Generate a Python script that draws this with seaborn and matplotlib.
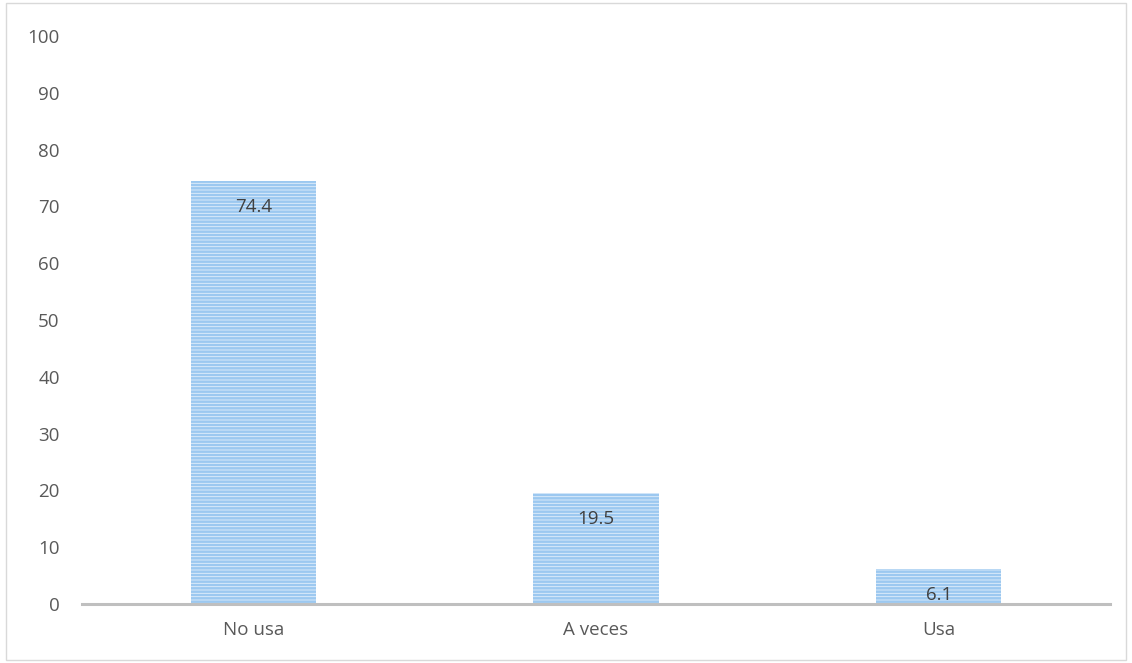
import pandas as pd
import matplotlib.pyplot as plt
import seaborn as sns
from matplotlib.patches import Rectangle

# data
categorias = ['No usa', 'A veces', 'Usa']
porcentaje = [74.4, 19.5, 6.1]

df = pd.DataFrame({'categoria': categorias, 'porcentaje': porcentaje})

sns.set_style('white')
plt.rcParams['font.family'] = ['Open Sans', 'DejaVu Sans']
plt.rcParams['hatch.linewidth'] = 1.8
plt.rcParams['hatch.color'] = '#9cc8f0'

fig = plt.figure(figsize=(11.32, 6.63), dpi=100)
ax = fig.add_axes([0.0724, 0.089, 0.9082, 0.8567])

sns.barplot(x='categoria', y='porcentaje', data=df, color='#e3effb', width=0.365,
            saturation=1, ax=ax)
for p in ax.patches:
    p.set_hatch('-----')
    p.set_edgecolor('#9cc8f0')
    p.set_linewidth(0)

ax.bar_label(ax.containers[0], labels=[f'{v:.1f}' for v in porcentaje],
             padding=-25, fontsize=13.5, color='#404040')

ax.set_ylim(0, 100)
ax.set_xlim(-0.5, 2.5)
ax.set_yticks(range(0, 101, 10))
ax.set_xlabel('')
ax.set_ylabel('')
ax.tick_params(axis='both', labelsize=13.5, labelcolor='#595959', length=0)
ax.tick_params(axis='y', pad=16)
ax.tick_params(axis='x', pad=12)

for s in ['top', 'right', 'left']:
    ax.spines[s].set_visible(False)
ax.spines['bottom'].set_color('#bfbfbf')
ax.spines['bottom'].set_linewidth(2.2)

# chart border
fig.patches.append(Rectangle((0.005, 0.004), 0.99, 0.992, transform=fig.transFigure,
                             fill=False, edgecolor='#d9d9d9', linewidth=1))

fig.savefig('out.png', dpi=100)
